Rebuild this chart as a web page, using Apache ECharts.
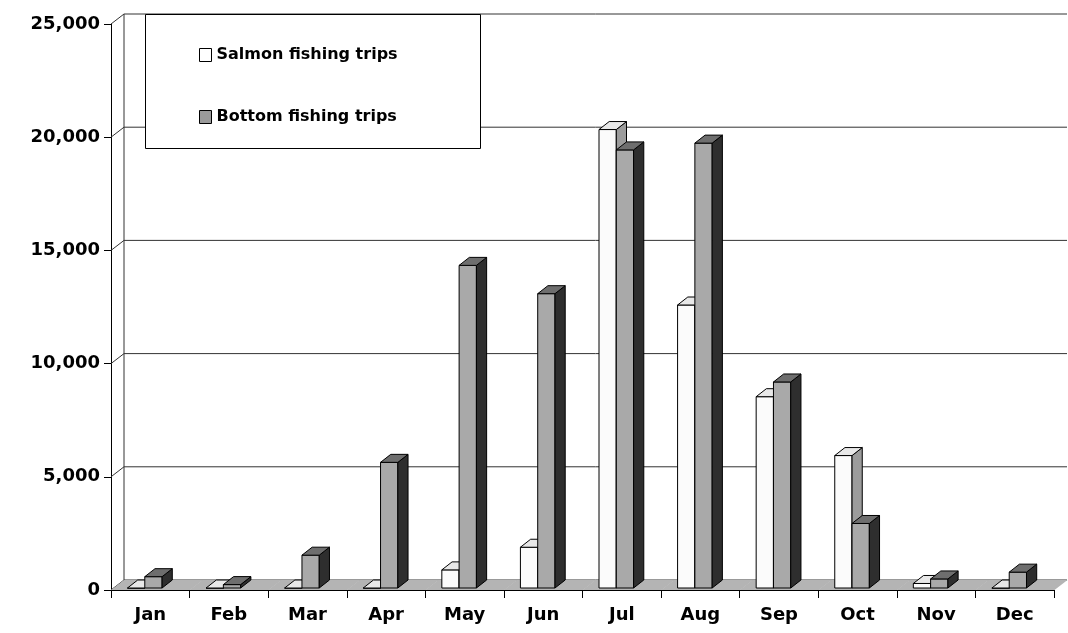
<!DOCTYPE html>
<html>
<head>
<meta charset="utf-8">
<script src="https://cdn.jsdelivr.net/npm/echarts@6/dist/echarts.min.js"></script>
<style>html,body{margin:0;padding:0;background:#fff}#c{width:1068px;height:633px}</style>
</head>
<body>
<div id="c"></div>
<script>
const categories = ['Jan','Feb','Mar','Apr','May','Jun','Jul','Aug','Sep','Oct','Nov','Dec'];
const salmonTrips = [0, 0, 0, 0, 800, 1800, 20250, 12500, 8450, 5850, 200, 0];
const bottomTrips = [500, 150, 1450, 5550, 14250, 13000, 19350, 19650, 9100, 2850, 400, 700];
const yTicks = [0, 5000, 10000, 15000, 20000, 25000];
const seriesNames = ['Salmon fishing trips', 'Bottom fishing trips'];

const DX = 13, DY = 10;
const FONT = '"DejaVu Sans", "Liberation Sans", Arial, sans-serif';

function barRenderer(offsetFrac, col) {
  return function (params, api) {
    const i = api.value(0), v = api.value(1);
    const bw = api.size([1, 0])[0];
    const c = api.coord([i, 0]);
    const t = api.coord([i, v]);
    const w = bw * 0.22;
    const x0 = c[0] + bw * offsetFrac, x1 = x0 + w;
    const yb = c[1] - 2, yt = t[1] - 2;
    const dx = bw * 0.13, dy = 8;
    const st = {stroke: '#000', lineWidth: 1};
    return {type: 'group', children: [
      {type: 'polygon', shape: {points: [[x0, yb], [x1, yb], [x1, yt], [x0, yt]]}, style: Object.assign({fill: col.front}, st)},
      {type: 'polygon', shape: {points: [[x1, yb], [x1 + dx, yb - dy], [x1 + dx, yt - dy], [x1, yt]]}, style: Object.assign({fill: col.side}, st)},
      {type: 'polygon', shape: {points: [[x0, yt], [x1, yt], [x1 + dx, yt - dy], [x0 + dx, yt - dy]]}, style: Object.assign({fill: col.top}, st)}
    ]};
  };
}

const chart = echarts.init(document.getElementById('c'), null, {renderer: 'canvas'});
chart.setOption({
  animation: false,
  backgroundColor: '#fff',
  grid: {left: 111, right: 14, top: 24, bottom: 43},
  xAxis: {
    type: 'category', data: categories,
    axisLine: {lineStyle: {color: '#000', width: 1}},
    axisTick: {show: true, length: 8, lineStyle: {color: '#000'}},
    axisLabel: {color: '#000', fontFamily: FONT, fontWeight: 'bold', fontSize: 18, margin: 16}
  },
  yAxis: {
    type: 'value', min: 0, max: 25000, interval: 5000,
    axisLine: {show: true, lineStyle: {color: '#000'}},
    axisTick: {show: true, length: 7, lineStyle: {color: '#000'}},
    splitLine: {show: false},
    axisLabel: {color: '#000', fontFamily: FONT, fontWeight: 'bold', fontSize: 18, margin: 11,
      formatter: v => String(v).replace(/\B(?=(\d{3})+(?!\d))/g, ',')}
  },
  legend: {
    left: 194, top: 42, orient: 'vertical', itemGap: 46, itemWidth: 12, itemHeight: 13, z: 12,
    textStyle: {color: '#000', fontFamily: FONT, fontWeight: 'bold', fontSize: 16},
    data: [
      {name: seriesNames[0], icon: 'rect', itemStyle: {color: '#fff', borderColor: '#000', borderWidth: 1}},
      {name: seriesNames[1], icon: 'rect', itemStyle: {color: '#9a9a9a', borderColor: '#000', borderWidth: 1}}
    ]
  },
  graphic: [{type: 'rect', left: 145, top: 14, z: 11, shape: {width: 335, height: 134},
    style: {fill: '#fff', stroke: '#000', lineWidth: 1}}],
  series: [
    {
      type: 'custom', name: 'grid', z: 1, silent: true, clip: false, legendHoverLink: false,
      data: yTicks.map(v => [0, v]), encode: {x: 0, y: 1},
      renderItem: function (params, api) {
        const cs = params.coordSys;
        const v = api.value(1);
        const y = api.coord([0, v])[1];
        const gx = cs.x;
        const children = [{type: 'polyline', shape: {points: [[gx, y], [gx + DX, y - DY], [cs.x + cs.width + DX, y - DY]]},
          style: {stroke: '#333', lineWidth: 1, fill: null}}];
        if (v === 0) {
          const yTop = api.coord([0, 25000])[1];
          children.push({type: 'line', shape: {x1: gx + DX, y1: y - DY, x2: gx + DX, y2: yTop - DY}, style: {stroke: '#333', lineWidth: 1}});
        }
        return {type: 'group', children: children};
      }
    },
    {
      type: 'custom', name: 'floor', z: 2, silent: true, clip: false,
      data: categories.map((c, i) => [i, 0]), encode: {x: 0, y: 1},
      renderItem: function (params, api) {
        const i = api.value(0);
        const bw = api.size([1, 0])[0];
        const c = api.coord([i, 0]);
        const x0 = c[0] - bw / 2, x1 = c[0] + bw / 2 + 0.5, y0 = c[1];
        return {type: 'polygon', shape: {points: [[x0, y0], [x1, y0], [x1 + DX, y0 - DY], [x0 + DX, y0 - DY]]},
          style: {fill: '#b4b4b4', stroke: null}};
      }
    },
    {
      type: 'custom', name: seriesNames[0], z: 3, clip: false,
      itemStyle: {color: '#fff', borderColor: '#000'},
      data: salmonTrips.map((v, i) => [i, v]), encode: {x: 0, y: 1},
      renderItem: barRenderer(-0.29, {front: '#fbfbfb', side: '#9c9c9c', top: '#e8e8e8'})
    },
    {
      type: 'custom', name: seriesNames[1], z: 4, clip: false,
      itemStyle: {color: '#9a9a9a', borderColor: '#000'},
      data: bottomTrips.map((v, i) => [i, v]), encode: {x: 0, y: 1},
      renderItem: barRenderer(-0.07, {front: '#a9a9a9', side: '#2e2e2e', top: '#6e6e6e'})
    }
  ]
});
</script>
</body>
</html>
